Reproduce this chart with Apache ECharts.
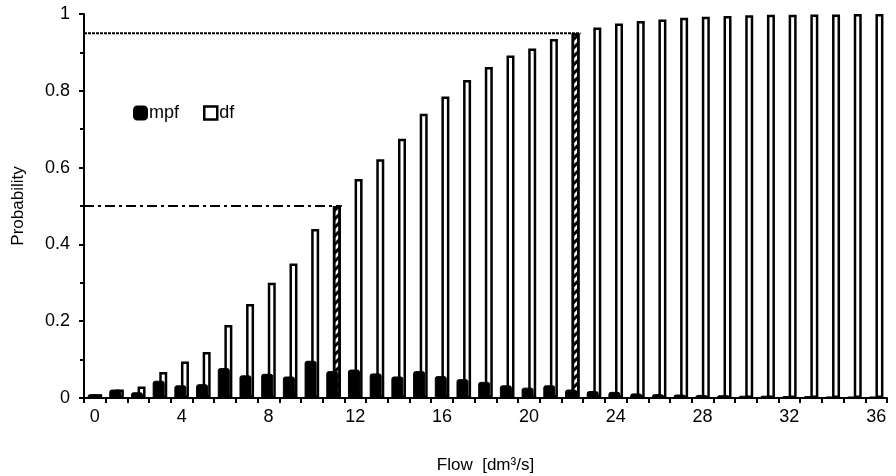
<!DOCTYPE html>
<html>
<head>
    <meta charset="utf-8" />
    <title>Flow probability</title>
    <script src="https://cdn.jsdelivr.net/npm/echarts@6/dist/echarts.min.js"></script>
    <style>
        html, body { margin: 0; padding: 0; background: #fff; }
        #main { width: 896px; height: 476px; }
    </style>
</head>
<body>
<div id="main"></div>
<script type="text/javascript">
    // flow classes [dm3/s]
    var categories = ['0','1','2','3','4','5','6','7','8','9','10','11','12','13','14','15','16','17','18',
        '19','20','21','22','23','24','25','26','27','28','29','30','31','32','33','34','35','36'];
    // mass probability function
    var mpf = [0.010, 0.022, 0.015, 0.045, 0.033, 0.036, 0.078, 0.059, 0.063, 0.056, 0.097, 0.070, 0.074,
        0.064, 0.056, 0.070, 0.057, 0.049, 0.042, 0.033, 0.027, 0.033, 0.022, 0.018, 0.016, 0.012, 0.010,
        0.009, 0.008, 0.007, 0.006, 0.006, 0.005, 0.005, 0.004, 0.004, 0.004];
    // distribution function
    var df = [0.010, 0.022, 0.030, 0.068, 0.095, 0.120, 0.190, 0.245, 0.300, 0.350, 0.440, 0.500, 0.570,
        0.622, 0.675, 0.740, 0.785, 0.828, 0.862, 0.892, 0.910, 0.935, 0.950, 0.965, 0.975, 0.982, 0.986,
        0.990, 0.993, 0.995, 0.997, 0.998, 0.998, 0.999, 0.999, 1.000, 1.000];
    // quantile levels and the flow class where they are reached
    var levels = [0.5, 0.95];
    var levelIdx = [11, 22];

    var hatch = {
        symbol: 'rect',
        symbolSize: 1,
        dashArrayX: [1, 0],
        dashArrayY: [3, 3],
        rotation: -Math.PI / 4,
        color: '#000'
    };

    var dfData = df.map(function (v, i) {
        if (levelIdx.indexOf(i) >= 0) {
            return { value: v, itemStyle: { color: '#fff', decal: hatch } };
        }
        return v;
    });

    function levelLine(k) {
        return [[-0.5, levels[k]], [levelIdx[k] + 0.38, levels[k]]];
    }

    var font = 'Liberation Sans, Arial, sans-serif';

    var option = {
        backgroundColor: '#fff',
        animation: false,
        textStyle: { fontFamily: font, color: '#000' },
        grid: { left: 84, right: 9, top: 14, bottom: 78, containLabel: false, outerBoundsMode: 'none' },
        legend: {
            left: 128,
            top: 99,
            itemWidth: 13,
            itemHeight: 13,
            itemGap: 24,
            textStyle: { fontSize: 18, color: '#000', fontFamily: font, padding: [0, 0, 0, -3] },
            data: [
                { name: 'mpf', icon: 'roundRect', itemStyle: { color: '#000' } },
                { name: 'df', icon: 'rect', itemStyle: { color: '#fff', borderColor: '#000', borderWidth: 2.5 } }
            ]
        },
        xAxis: [{
            type: 'category',
            data: categories,
            name: 'Flow  [dm³/s]',
            nameLocation: 'middle',
            nameGap: 59,
            nameTextStyle: { fontSize: 17, color: '#000' },
            axisLine: { lineStyle: { color: '#000', width: 2 } },
            axisTick: { show: true, interval: 0, length: 5, lineStyle: { color: '#000', width: 2 } },
            axisLabel: { interval: 3, fontSize: 18, color: '#000', margin: 10 },
            splitLine: { show: false }
        }, {
            type: 'value',
            min: -0.5,
            max: 36.5,
            show: false
        }],
        yAxis: {
            type: 'value',
            min: 0,
            max: 1,
            interval: 0.2,
            name: 'Probability',
            nameLocation: 'middle',
            nameGap: 57,
            nameTextStyle: { fontSize: 17, color: '#000' },
            axisLine: { show: true, onZero: false, lineStyle: { color: '#000', width: 2 } },
            axisTick: { show: true, length: 5, lineStyle: { color: '#000', width: 2 } },
            minorTick: { show: true, splitNumber: 2, length: 4, lineStyle: { color: '#000', width: 2 } },
            axisLabel: { fontSize: 18, color: '#000', margin: 14 },
            splitLine: { show: false }
        },
        series: [{
            name: 'mpf',
            type: 'bar',
            data: mpf,
            barWidth: 12,
            barGap: '-45%',
            z: 3,
            itemStyle: { color: '#000', borderColor: '#000', borderWidth: 1, borderRadius: [2, 2, 0, 0] }
        }, {
            name: 'df',
            type: 'bar',
            data: dfData,
            barWidth: 8,
            z: 2,
            itemStyle: { color: '#fff', borderColor: '#000', borderWidth: 2.5 }
        }, {
            name: 'q50',
            type: 'line',
            xAxisIndex: 1,
            data: levelLine(0),
            symbol: 'none',
            z: 4,
            lineStyle: { color: '#000', width: 2, type: [10, 4, 3, 4] }
        }, {
            name: 'q95',
            type: 'line',
            xAxisIndex: 1,
            data: levelLine(1),
            symbol: 'none',
            z: 4,
            lineStyle: { color: '#000', width: 2, type: [3, 1] }
        }]
    };

    var myChart = echarts.init(document.getElementById('main'));
    myChart.setOption(option);
</script>
</body>
</html>
